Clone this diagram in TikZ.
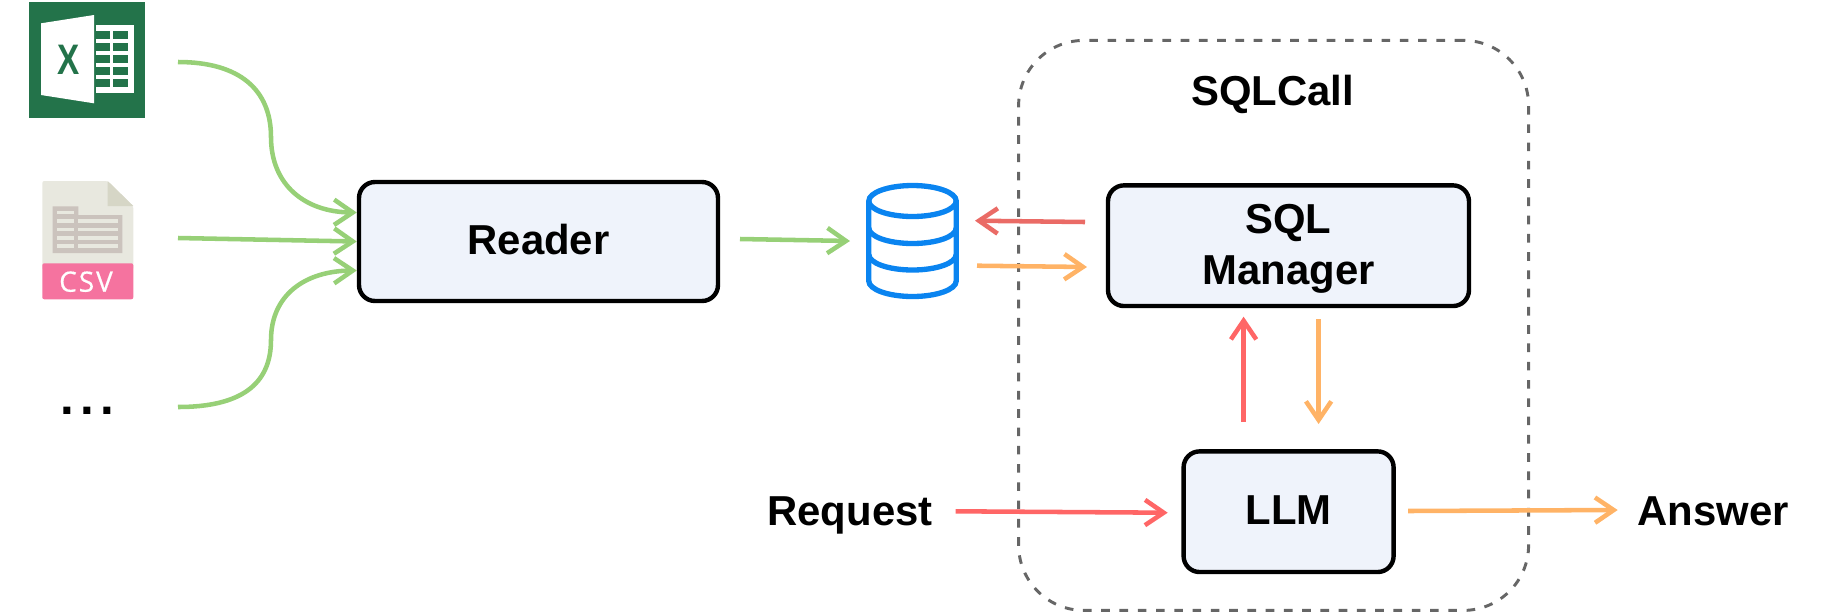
\documentclass[tikz,border=0pt]{standalone}
\usepackage{fontspec}
\setmainfont{Liberation Sans}
\newfontfamily\csvfont[LetterSpace=7,FakeBold=0.4]{Open Sans}
\usetikzlibrary{arrows.meta}
\definecolor{boxfill}{HTML}{EFF3FB}
\definecolor{greenline}{HTML}{97D077}
\definecolor{redline}{HTML}{FF6666}
\definecolor{darkred}{HTML}{EA6B66}
\definecolor{orangeline}{HTML}{FFB366}
\definecolor{dashgray}{HTML}{666666}
\definecolor{dbblue}{HTML}{0A84F0}
\definecolor{xlgreen}{HTML}{23734A}
\definecolor{csvpage}{HTML}{E8E8DF}
\definecolor{csvfold}{HTML}{D6D6C6}
\definecolor{csvpink}{HTML}{F5739F}
\definecolor{csvtable}{HTML}{CBC3BD}
\tikzset{
  x=.75pt,y=-.75pt,
  boxnode/.style={draw=black,line width=3.3pt,fill=boxfill,rounded corners=12pt,inner sep=0pt,align=center,
    font=\fontsize{31.4}{38.25}\selectfont\bfseries},
  label/.style={inner sep=0pt,anchor=base,font=\fontsize{31.4}{38.25}\selectfont\bfseries},
  flow/.style={line width=3.4pt,-{Straight Barb[length=14pt,width=19pt]}},
  greenflow/.style={flow,draw=greenline},
  redflow/.style={flow,draw=redline},
  drkflow/.style={flow,draw=darkred},
  orgflow/.style={flow,draw=orangeline},
}
\begin{document}
\begin{tikzpicture}
\useasboundingbox (0,0) rectangle (1821,612);
% SQLCall container
\node[draw=dashgray,line width=2.2pt,dash pattern=on 6.5pt off 7.2pt,rounded corners=49pt,
  minimum width=382.5pt,minimum height=427.5pt,inner sep=0pt] (container) at (1273.6,325.4) {};
\node[label] (sqlcall) at (1272.5,105) {SQLCall};
% boxes
\node[boxnode,minimum width=269.25pt,minimum height=89.25pt] (reader) at (538.5,241.5) {\rule[-2.7pt]{0pt}{0pt}Reader};
\node[boxnode,minimum width=270.75pt,minimum height=90.5pt] (manager) at (1288.5,245.7) {\rule{0pt}{26pt}SQL\\Manager};
\node[boxnode,minimum width=157.5pt,minimum height=90.5pt] (llm) at (1288.6,511.7) {\rule[-2.6pt]{0pt}{0pt}LLM};
% labels
\node[label] (request) at (850,525) {Request};
\node[label] (answer) at (1713,525) {Answer};
\node[label,font=\fontsize{37}{37}\selectfont\bfseries] (dots) at (87,414) {.\kern4.7pt.\kern4.7pt.};
% Excel icon
\fill[xlgreen] (29.3,2) rectangle (145.3,117.7);
\fill[white] (41,23.3) -- (94,15) -- (94,103.3) -- (41,95) -- cycle;
\fill[white] (96.3,25) rectangle (133.7,93.3);
\foreach \ya/\yb in {30.7/39.3,42.7/51.3,54.7/63.3,66.7/75.3,78.7/87.3}{
  \fill[xlgreen] (96.3,\ya) rectangle (110,\yb);
  \fill[xlgreen] (112.7,\ya) rectangle (128,\yb);
}
\node[inner sep=0pt,anchor=base,text=xlgreen,font=\fontsize{32}{32}\selectfont\bfseries] (xlx) at (68.3,74) {\scalebox{.78}[1]{X}};
% CSV icon
\fill[csvpage,rounded corners=1.5pt] (42.3,181) -- (107.7,181) -- (133.3,206) -- (133.3,270) -- (42.3,270) -- cycle;
\fill[csvfold] (107.7,181) -- (133.3,206) -- (107.7,206) -- cycle;
\fill[csvpink,rounded corners=1.5pt] (42.3,263.3) -- (133.3,263.3) -- (133.3,299.3) -- (42.3,299.3) -- cycle;
\fill[csvtable] (52.7,206.3) -- (78.3,206.3) -- (78.3,215) -- (122.3,215) -- (122.3,253) -- (52.7,253) -- cycle;
\fill[csvpage] (56.7,210.7) rectangle (74,214.3);
\foreach \ya/\yb in {219/222.7,227.7/231.3,236/239.7,244.3/248.3}{
  \fill[csvpage] (56.7,\ya) rectangle (74,\yb);
  \fill[csvpage] (78.3,\ya) rectangle (118.3,\yb);
}
\node[inner sep=0pt,anchor=base,text=white,font=\csvfont\fontsize{21}{21}\selectfont] (csvtext) at (86,291.7) {CSV};
% database
\begin{scope}[line width=4pt]
\draw[dbblue] (912.5,201) ellipse [x radius=43.7,y radius=15.5];
\node[inner sep=0pt,minimum size=0pt] (db) at (912.5,241) {};
\draw[dbblue] (868.8,201) -- (868.8,281) arc[start angle=180,end angle=360,x radius=43.7,y radius=-15.5] -- (956.2,201);
\draw[dbblue] (868.8,228) arc[start angle=180,end angle=360,x radius=43.7,y radius=-15.5];
\draw[dbblue] (868.8,254.5) arc[start angle=180,end angle=360,x radius=43.7,y radius=-15.5];
\end{scope}
% free ends
\coordinate (f1) at (178,62);
\coordinate (f2) at (178,238);
\coordinate (f3) at (178,407);
\coordinate (r1) at ([yshift=21.75pt]reader.west);
\coordinate (r2) at (reader.west);
\coordinate (r3) at ([yshift=-21.75pt]reader.west);
\coordinate (readerout) at (740,239);
\coordinate (dbin) at (850,241);
\coordinate (dbout) at (977,265.7);
\coordinate (dbback) at (975,220.7);
\coordinate (mgrin) at (1087,267);
\coordinate (mgrout) at (1085,222);
\coordinate (llmup) at (1243.6,421.7);
\coordinate (mgrup) at (1243.6,316.7);
\coordinate (mgrdown) at (1318.6,319);
\coordinate (llmdown) at (1318.6,424);
\coordinate (reqout) at (955.7,511.3);
\coordinate (llmin) at (1167.7,512.7);
\coordinate (llmout) at (1408,511);
\coordinate (ansin) at (1617.7,510);
% connectors
\draw[greenflow] (f1) .. controls (240,62) and (271,90) .. (271,137) .. controls (271,185) and (305,212) .. (r1);
\draw[greenflow] (f2) -- (r2);
\draw[greenflow] (f3) .. controls (240,407) and (271,385) .. (271,340) .. controls (271,295) and (305,271) .. (r3);
\draw[greenflow] (readerout) -- (dbin);
\draw[drkflow] (mgrout) -- (dbback);
\draw[orgflow] (dbout) -- (mgrin);
\draw[redflow] (llmup) -- (mgrup);
\draw[orgflow] (mgrdown) -- (llmdown);
\draw[redflow] (reqout) -- (llmin);
\draw[orgflow] (llmout) -- (ansin);
\end{tikzpicture}
\end{document}
